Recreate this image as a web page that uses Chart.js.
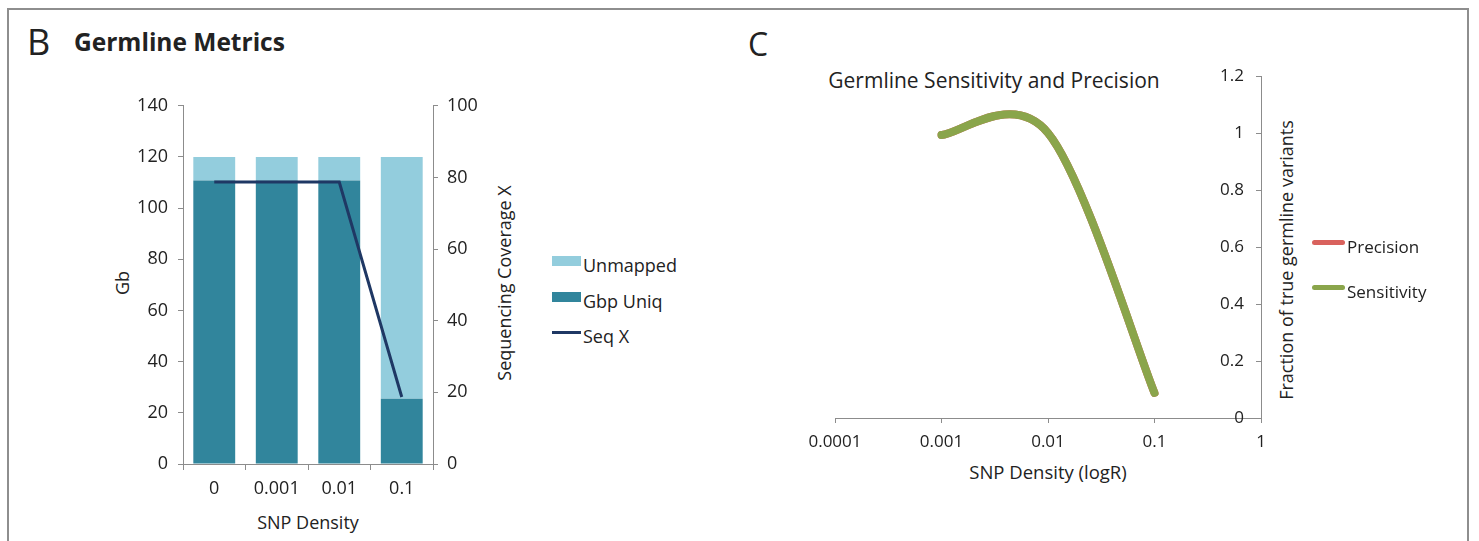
<!DOCTYPE html>
<html lang="en">
<head>
<meta charset="UTF-8">
<title>Germline Metrics</title>
<script src="https://cdn.jsdelivr.net/npm/chart.js"></script>
<style>
  body { margin: 0; background: #fff; font-family: "Open Sans", sans-serif; color: #222; }
  #page { position: relative; width: 1479px; height: 541px; overflow: hidden; }
  #frame { position: absolute; left: 7px; top: 8px; width: 1458px; height: 600px; border: 2px solid #8e8e8e; }
  .txt { position: absolute; white-space: nowrap; line-height: 1; }
  .ctr { transform: translate(-50%, -50%); }
  .rot { transform: translate(-50%, -50%) rotate(-90deg); }
  canvas { position: absolute; }
  .sw { position: absolute; }
</style>
</head>
<body>
<div id="page">
  <div id="frame"></div>

  <!-- panel B -->
  <div class="txt" style="left:27px; top:24px; font-size:36px;">B</div>
  <div class="txt" style="left:74px; top:30px; font-size:24.5px; font-weight:bold;">Germline Metrics</div>
  <div class="txt rot" style="left:122px; top:283px; font-size:18px;">Gb</div>
  <div class="txt rot" style="left:504px; top:283px; font-size:18px;">Sequencing Coverage X</div>
  <div class="txt ctr" style="left:308px; top:522px; font-size:18px;">SNP Density</div>
  <canvas id="chartB" width="420" height="450" style="left:90px; top:85px;"></canvas>
  <div id="legendB"></div>

  <!-- panel C -->
  <div class="txt" style="left:748px; top:28px; font-size:32px;">C</div>
  <div class="txt ctr" style="left:994px; top:80px; font-size:21px;">Germline Sensitivity and Precision</div>
  <div class="txt ctr" style="left:1048px; top:472px; font-size:18.5px;">SNP Density (logR)</div>
  <div class="txt rot" style="left:1286px; top:260px; font-size:18px;">Fraction of true germline variants</div>
  <canvas id="chartC" width="560" height="440" style="left:760px; top:60px;"></canvas>
  <div id="legendC"></div>
</div>

<script>
// ---- data, panel B
const densities = ['0', '0.001', '0.01', '0.1'];
const gbpUniq = [110.8, 110.8, 110.8, 25.5];
const unmapped = [9.2, 9.2, 9.2, 94.5];
const seqX = [78.7, 78.7, 78.7, 18.7];

// ---- data, panel C
const snpDensity = [0.001, 0.01, 0.1];
const sensitivity = [0.993, 1.0, 0.088];
const precision = [0.993, 1.0, 0.088];
const logTicks = [0.0001, 0.001, 0.01, 0.1, 1];
const logLabels = ['0.0001', '0.001', '0.01', '0.1', '1'];

const FONT = '"Open Sans", sans-serif';
const AXIS = '#8c8c8c';
const INK = '#222';

// html legend, built from the same labels / colours as the datasets
function legend(id, items, x, ys, textSize) {
    const box = document.getElementById(id);
    items.forEach((it, i) => {
        const sw = document.createElement('div');
        sw.className = 'sw';
        sw.style.left = x + 'px';
        sw.style.width = it.w + 'px';
        sw.style.height = it.h + 'px';
        sw.style.top = (ys[i] - it.h / 2) + 'px';
        sw.style.background = it.color;
        if (it.round) sw.style.borderRadius = (it.h / 2) + 'px';
        box.appendChild(sw);
        const t = document.createElement('div');
        t.className = 'txt';
        t.style.left = (x + it.w + 2) + 'px';
        t.style.top = (ys[i] + 4) + 'px';
        t.style.transform = 'translateY(-50%)';
        t.style.fontSize = textSize + 'px';
        t.textContent = it.label;
        box.appendChild(t);
    });
}

// excel style smoothing: bezier handles = 1/6 of the neighbour chord
const excelSmooth = {
    id: 'excelSmooth',
    beforeDatasetDraw(chart, args) {
        const pts = args.meta.data;
        const n = pts.length;
        for (let i = 0; i < n; i++) {
            const a = pts[Math.max(i - 1, 0)], p = pts[i], b = pts[Math.min(i + 1, n - 1)];
            p.cp1x = p.x - (b.x - a.x) / 6;
            p.cp1y = p.y - (b.y - a.y) / 6;
            p.cp2x = p.x + (b.x - a.x) / 6;
            p.cp2y = p.y + (b.y - a.y) / 6;
        }
        args.meta.dataset._pointsUpdated = true;
    }
};

// ---------------- panel B ----------------
new Chart(document.getElementById('chartB'), {
    type: 'bar',
    data: {
        labels: densities,
        datasets: [
            { type: 'line', label: 'Seq X', data: seqX, yAxisID: 'y1', borderColor: '#1f3864',
              borderWidth: 3, pointRadius: 0, tension: 0, order: 0 },
            { label: 'Gbp Uniq', data: gbpUniq, backgroundColor: '#31859c', yAxisID: 'y', order: 1,
              barPercentage: 0.67, categoryPercentage: 1 },
            { label: 'Unmapped', data: unmapped, backgroundColor: '#93cddd', yAxisID: 'y', order: 1,
              barPercentage: 0.67, categoryPercentage: 1 }
        ]
    },
    options: {
        responsive: false,
        animation: false,
        layout: { padding: { top: 18, left: 0, right: 0, bottom: 0 } },
        plugins: { legend: { display: false }, tooltip: { enabled: false } },
        scales: {
            x: {
                stacked: true,
                grid: { drawOnChartArea: false, offset: true, tickLength: 6, color: AXIS },
                border: { color: AXIS },
                ticks: { color: INK, font: { family: FONT, size: 18 }, padding: 8 },
                afterFit: s => { s.height = 71; }
            },
            y: {
                stacked: true, min: 0, max: 140,
                grid: { drawOnChartArea: false, tickLength: 5, color: AXIS },
                border: { color: AXIS },
                ticks: { stepSize: 20, color: INK, font: { family: FONT, size: 18 }, padding: 10 },
                afterFit: s => { s.width = 93; }
            },
            y1: {
                position: 'right', min: 0, max: 100,
                grid: { drawOnChartArea: false, tickLength: 5, color: AXIS },
                border: { color: AXIS },
                ticks: { stepSize: 20, color: INK, font: { family: FONT, size: 18 }, padding: 9 },
                afterFit: s => { s.width = 77; }
            }
        }
    }
});

legend('legendB', [
    { label: 'Unmapped', color: '#93cddd', w: 29, h: 10 },
    { label: 'Gbp Uniq', color: '#31859c', w: 29, h: 10 },
    { label: 'Seq X', color: '#1f3864', w: 29, h: 3 }
], 552, [261, 297, 332], 18);

// ---------------- panel C ----------------
new Chart(document.getElementById('chartC'), {
    type: 'line',
    data: {
        datasets: [
            { label: 'Sensitivity', data: snpDensity.map((x, i) => ({ x: x, y: sensitivity[i] })),
              borderColor: '#8aa54b', borderWidth: 8, borderCapStyle: 'round', pointRadius: 0,
              tension: 0.4, order: 0 },
            { label: 'Precision', data: snpDensity.map((x, i) => ({ x: x, y: precision[i] })),
              borderColor: '#d9625d', borderWidth: 8, borderCapStyle: 'round', pointRadius: 0,
              tension: 0.4, order: 1 }
        ]
    },
    options: {
        responsive: false,
        animation: false,
        layout: { padding: { top: 16, left: 75, right: 0, bottom: 0 } },
        plugins: { legend: { display: false }, tooltip: { enabled: false } },
        scales: {
            x: {
                type: 'logarithmic', min: 0.0001, max: 1,
                afterBuildTicks: s => { s.ticks = logTicks.map(v => ({ value: v })); },
                grid: { drawOnChartArea: false, tickLength: 5, color: AXIS },
                border: { color: AXIS },
                ticks: { color: INK, font: { family: FONT, size: 17 }, padding: 9, autoSkip: false,
                         maxRotation: 0, callback: (v, i) => logLabels[i] },
                afterFit: s => { s.height = 82; }
            },
            y: {
                position: 'right', min: 0, max: 1.2,
                grid: { drawOnChartArea: false, tickLength: -5, color: AXIS },
                border: { color: AXIS },
                ticks: { stepSize: 0.2, mirror: true, padding: -17, color: INK,
                         font: { family: FONT, size: 17 },
                         callback: v => String(Number(v.toFixed(1))) },
                afterFit: s => { s.width = 59; }
            }
        }
    },
    plugins: [excelSmooth]
});

legend('legendC', [
    { label: 'Precision', color: '#d9625d', w: 33, h: 5, round: true },
    { label: 'Sensitivity', color: '#8aa54b', w: 33, h: 5, round: true }
], 1312, [242, 287], 17);
</script>
</body>
</html>
